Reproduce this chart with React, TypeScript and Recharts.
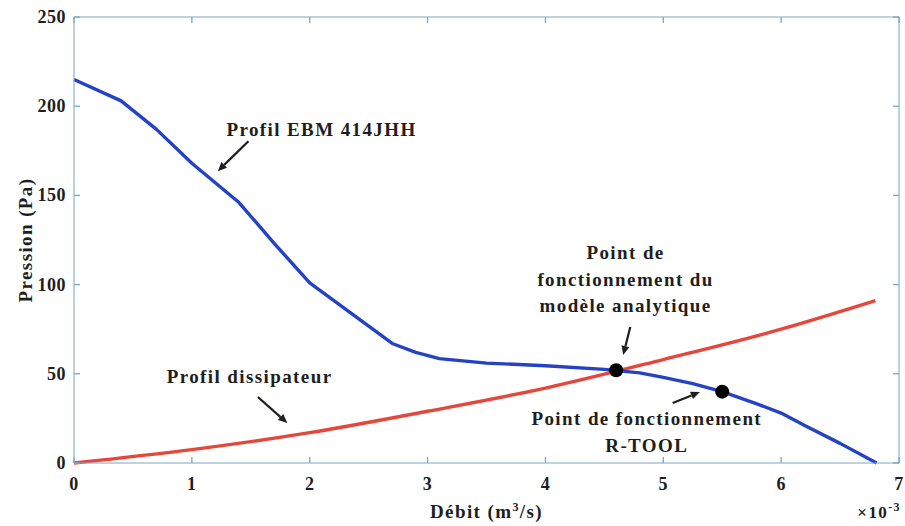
import React from 'react'
import { LineChart, Line, XAxis, YAxis, ReferenceDot, ReferenceLine, Label } from 'recharts'

// courbe du ventilateur EBM 414JHH (débit en 1e-3 m3/s, pression en Pa)
const ebmDebit = [0, 0.4, 0.7, 1.0, 1.4, 1.7, 2.0, 2.35, 2.7, 2.9, 3.1, 3.5, 4.0, 4.5, 4.8, 5.0, 5.25, 5.5, 5.8, 6.0, 6.2, 6.5, 6.81]
const ebmPression = [215, 203, 187, 168, 146, 123, 101, 84, 67, 62, 58.5, 56, 54.5, 52.5, 50.5, 48, 44.5, 40, 33, 28, 21, 11, 0]

// courbe de perte de charge du dissipateur
const dissDebit = [0, 1, 2, 3, 4, 5, 6, 6.8]
const dissPression = [0, 7.5, 17, 29, 42, 58, 75, 91]

// points de fonctionnement
const pointDebit = [4.6, 5.5]
const pointPression = [52, 40]

const xTicks = [0, 1, 2, 3, 4, 5, 6, 7]
const yTicks = [0, 50, 100, 150, 200, 250]

const ebmData = ebmDebit.map((d, i) => ({ d, p: ebmPression[i] }))
const dissData = dissDebit.map((d, i) => ({ d, p: dissPression[i] }))

const FONT = "'Liberation Serif', 'Times New Roman', serif"
const INK = '#1e1e1e'
const AXIS = '#79a7c4'

const W = 905
const H = 526
const M = { top: 17, right: 6, bottom: 23, left: 0 }
const Y_AXIS_W = 74
const X_AXIS_H = 40
const PLOT_TOP = M.top
const PLOT_BOTTOM = H - M.bottom - X_AXIS_H
const PLOT_LEFT = M.left + Y_AXIS_W
const PLOT_RIGHT = W - M.right
const TICK = 6

// annotations : texte (position en coordonnées des données) + flèche
const notes = [
  { x: 2.1, y: 187.5, lines: ['Profil EBM 414JHH'] },
  { x: 1.49, y: 48.5, lines: ['Profil dissipateur'] },
  { x: 4.68, y: 118, lines: ['Point de', 'fonctionnement du', 'modèle analytique'] },
  { x: 4.86, y: 25.2, lines: ['Point de fonctionnement', 'R-TOOL'] }
]
const arrows = [
  { from: { x: 1.48, y: 180.4 }, to: { x: 1.22, y: 163.6 } },
  { from: { x: 1.56, y: 37 }, to: { x: 1.81, y: 22.4 } },
  { from: { x: 4.72, y: 76.2 }, to: { x: 4.66, y: 60.5 } },
  { from: { x: 5.08, y: 33.6 }, to: { x: 5.31, y: 39.8 } }
]

const textProps = {
  fill: INK,
  fontFamily: FONT,
  fontWeight: 'bold' as const,
  fontSize: 19,
  letterSpacing: 1.4
}

const noteShape = (lines: string[]) => (props: any) => (
  <text x={props.cx} y={props.cy} textAnchor='middle' dominantBaseline='central' {...textProps}>
    {lines.map((l, i) => (
      <tspan key={i} x={props.cx} dy={i === 0 ? 0 : 26.5}>
        {l}
      </tspan>
    ))}
  </text>
)

const arrowShape = (props: any) => {
  const { x1, y1, x2, y2 } = props
  const a = Math.atan2(y2 - y1, x2 - x1)
  const L = 9
  const w = 4
  const bx = x2 - L * Math.cos(a)
  const by = y2 - L * Math.sin(a)
  const p1 = `${bx + w * Math.sin(a)},${by - w * Math.cos(a)}`
  const p2 = `${bx - w * Math.sin(a)},${by + w * Math.cos(a)}`
  return (
    <g>
      <line x1={x1} y1={y1} x2={bx} y2={by} stroke={INK} strokeWidth={2.2} />
      <polygon points={`${x2},${y2} ${p1} ${p2}`} fill={INK} />
    </g>
  )
}

// graduations vers l'intérieur (style MATLAB), en bas et en haut
const XTick = (props: any) => {
  const { x, payload } = props
  return (
    <g>
      <line x1={x} x2={x} y1={PLOT_BOTTOM} y2={PLOT_BOTTOM - TICK} stroke={AXIS} strokeWidth={1.3} />
      <line x1={x} x2={x} y1={PLOT_TOP} y2={PLOT_TOP + TICK} stroke={AXIS} strokeWidth={1.3} />
      <text x={x} y={PLOT_BOTTOM + 21} textAnchor='middle' dominantBaseline='central' {...textProps} fontSize={18} letterSpacing={0.5}>
        {payload.value}
      </text>
    </g>
  )
}

const YTick = (props: any) => {
  const { y, payload } = props
  return (
    <g>
      <line x1={PLOT_LEFT} x2={PLOT_LEFT + TICK} y1={y} y2={y} stroke={AXIS} strokeWidth={1.3} />
      <line x1={PLOT_RIGHT} x2={PLOT_RIGHT - TICK} y1={y} y2={y} stroke={AXIS} strokeWidth={1.3} />
      <text x={PLOT_LEFT - 8} y={y} textAnchor='end' dominantBaseline='central' {...textProps} fontSize={18} letterSpacing={0.5}>
        {payload.value}
      </text>
    </g>
  )
}

const YTitle = (props: any) => {
  const { viewBox } = props
  const cy = viewBox.y + viewBox.height / 2
  return (
    <text x={25} y={cy} transform={`rotate(-90, 25, ${cy})`} textAnchor='middle' dominantBaseline='central' {...textProps}>
      Pression (Pa)
    </text>
  )
}

const XTitle = (props: any) => {
  const { viewBox } = props
  const cx = viewBox.x + viewBox.width / 2
  return (
    <g>
      <text x={cx} y={518} textAnchor='middle' {...textProps}>
        Débit (m<tspan dy={-7} fontSize={12}>3</tspan>
        <tspan dy={7}>/s)</tspan>
      </text>
      <text x={PLOT_RIGHT + 2} y={518} textAnchor='end' {...textProps} fontSize={17}>
        ×10<tspan dy={-7} fontSize={12}>-3</tspan>
      </text>
    </g>
  )
}

export default function App() {
  return (
    <div style={{ position: 'absolute', left: 0, top: 0, background: '#fff' }}>
      <LineChart width={W} height={H} margin={M}>
        <XAxis
          xAxisId='bottom'
          dataKey='d'
          type='number'
          domain={[0, 7]}
          ticks={xTicks}
          height={X_AXIS_H}
          stroke={AXIS}
          tickLine={false}
          tick={<XTick />}
          label={<Label content={XTitle} />}
        />
        <YAxis
          yAxisId='left'
          type='number'
          domain={[0, 250]}
          ticks={yTicks}
          width={Y_AXIS_W}
          stroke={AXIS}
          tickLine={false}
          tick={<YTick />}
          label={<Label content={YTitle} />}
        />
        <ReferenceLine xAxisId='bottom' yAxisId='left' y={250} stroke={AXIS} />
        <ReferenceLine xAxisId='bottom' yAxisId='left' x={7} stroke={AXIS} />
        <Line
          xAxisId='bottom'
          yAxisId='left'
          data={dissData}
          dataKey='p'
          type='monotone'
          stroke='#e5473b'
          strokeWidth={3.4}
          dot={false}
          isAnimationActive={false}
        />
        <Line
          xAxisId='bottom'
          yAxisId='left'
          data={ebmData}
          dataKey='p'
          type='linear'
          stroke='#2443c4'
          strokeWidth={3.4}
          strokeLinejoin='round'
          dot={false}
          isAnimationActive={false}
        />
        {pointDebit.map((d, i) => (
          <ReferenceDot
            key={'pt' + i}
            xAxisId='bottom'
            yAxisId='left'
            x={d}
            y={pointPression[i]}
            r={7}
            fill='#000'
            stroke='none'
          />
        ))}
        {arrows.map((a, i) => (
          <ReferenceLine
            key={'ar' + i}
            xAxisId='bottom'
            yAxisId='left'
            segment={[a.from, a.to]}
            shape={arrowShape}
            ifOverflow='visible'
          />
        ))}
        {notes.map((n, i) => (
          <ReferenceDot
            key={'nt' + i}
            xAxisId='bottom'
            yAxisId='left'
            x={n.x}
            y={n.y}
            r={1}
            shape={noteShape(n.lines)}
            ifOverflow='visible'
          />
        ))}
      </LineChart>
    </div>
  )
}
